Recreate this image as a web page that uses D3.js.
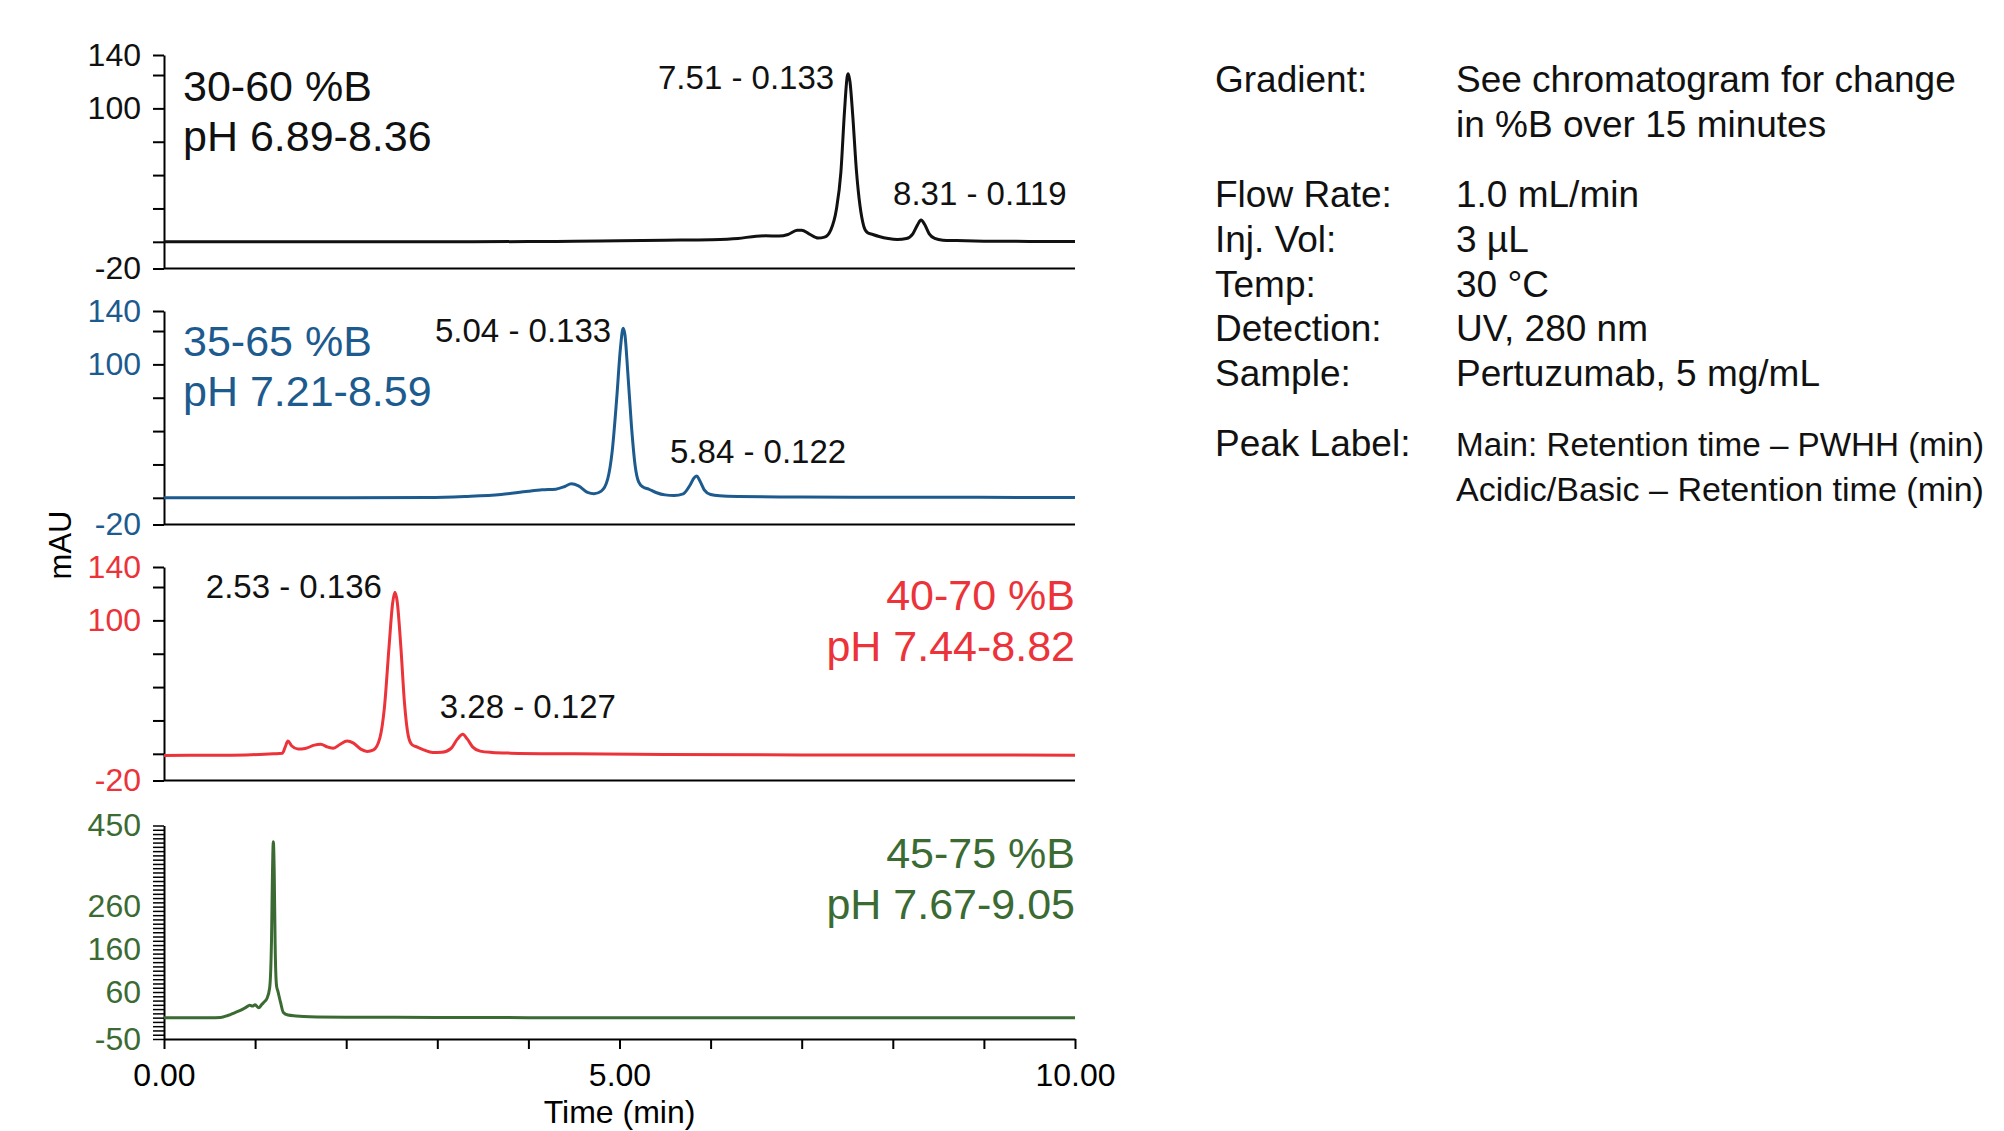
<!DOCTYPE html>
<html><head><meta charset="utf-8">
<script src="https://cdn.jsdelivr.net/npm/d3@7"></script>
<style>
body{margin:0;background:#fff;overflow:hidden}
svg{display:block;font-family:"Liberation Sans",Arial,sans-serif}
</style></head>
<body><svg id="c" width="2004" height="1131"></svg>
<script>
// ---------- DATA ----------
const panelGradients = ["30-60 %B", "35-65 %B", "40-70 %B", "45-75 %B"];
const panelPH = ["pH 6.89-8.36", "pH 7.21-8.59", "pH 7.44-8.82", "pH 7.67-9.05"];
const yDomains = [[-20, 140], [-20, 140], [-20, 140], [-50, 450]];
const yTickValuesStd = [-20, 0, 25, 50, 75, 100, 125, 140];
const yTickValuesP4 = [-50, -40, -30, -20, -10, 0, 10, 20, 30, 40, 50, 60, 70, 80, 90, 100, 110, 120, 130, 140, 150, 160, 170, 180, 190, 200, 210, 220, 230, 240, 250, 260, 270, 280, 290, 300, 310, 320, 330, 340, 350, 360, 370, 380, 390, 400, 410, 420, 430, 440, 450];
const yTickLabelsStd = [-20, 100, 140];
const yTickLabelsP4 = [-50, 60, 160, 260, 450];
const xTickValues = [0, 1, 2, 3, 4, 5, 6, 7, 8, 9, 10];
const xTickLabels = [0, 5, 10];
const xLabel = "Time (min)";
const yLabel = "mAU";

// time (min), absorbance (mAU)
const trace1 = [[0,0],[1,0],[2,0],[3,0],[4,0.2],[4.5,0.4],[5,0.8],[5.5,1.2],[6,1.6],[6.3,2.5],[6.5,4.2],[6.6,4.5],[6.75,4.3],[6.85,5.5],[6.95,8.6],[7.0,8.7],[7.08,6],[7.18,2.8],[7.25,3.5],[7.32,9],[7.38,24],[7.43,52],[7.47,98],[7.5,124],[7.51,126],[7.53,120],[7.56,95],[7.6,54],[7.64,27],[7.68,12],[7.72,7],[7.78,5.5],[7.85,4],[7.95,2.5],[8.05,1.8],[8.15,2.5],[8.22,6],[8.27,12.5],[8.31,16.3],[8.35,13],[8.4,6],[8.46,2.5],[8.55,1.2],[8.7,0.9],[9,0.5],[9.5,0.3],[10,0.2]];
const trace2 = [[0,0],[1,0],[2,0],[2.9,0.2],[3.3,1],[3.7,2.5],[4.0,5],[4.15,6],[4.3,6.5],[4.4,8.5],[4.47,10.5],[4.55,9],[4.65,4],[4.72,3],[4.8,5],[4.87,14],[4.92,35],[4.97,75],[5.01,112],[5.04,127],[5.06,122],[5.09,95],[5.13,55],[5.17,25],[5.21,12],[5.26,8],[5.32,6.5],[5.4,4],[5.5,2.2],[5.6,1.8],[5.7,3],[5.77,9],[5.82,15],[5.85,16.3],[5.88,13],[5.93,6],[6.0,2.5],[6.1,1.5],[6.3,1],[7,0.6],[8,0.4],[10,0.3]];
const trace3 = [[0,-1.2],[0.5,-1.1],[0.9,-0.8],[1.2,0],[1.3,0.5],[1.33,5],[1.36,9.6],[1.4,6],[1.47,3.6],[1.55,4],[1.65,6.5],[1.72,7.1],[1.8,5],[1.86,4.2],[1.93,7],[2.01,9.6],[2.08,8],[2.16,3.5],[2.23,1.8],[2.3,3],[2.37,12],[2.42,35],[2.47,80],[2.51,113],[2.535,121],[2.56,114],[2.6,80],[2.64,38],[2.68,14],[2.72,7],[2.78,5],[2.85,3],[2.95,1],[3.05,1.2],[3.15,4],[3.22,11],[3.28,14.6],[3.33,11],[3.39,5],[3.47,2],[3.6,1],[3.8,0.5],[4.5,0],[5.5,-0.5],[7,-0.8],[10,-1]];
const trace4 = [[0,0],[0.5,0],[0.62,0.5],[0.7,5],[0.78,12],[0.85,18],[0.9,24],[0.94,29],[0.97,27],[1.0,30],[1.04,23],[1.07,30],[1.1,37],[1.13,45],[1.16,70],[1.18,180],[1.19,330],[1.2,412],[1.21,340],[1.22,170],[1.235,75],[1.25,62],[1.28,35],[1.31,12],[1.36,6],[1.45,4],[1.6,2],[2,1],[3,0.5],[4,0],[10,0]];
const traces = [trace1, trace2, trace3, trace4];

// peak annotations: [time, mAU, text]
const peaks1 = [[7.51, 126, "7.51 - 0.133"], [8.31, 16.3, "8.31 - 0.119"]];
const peaks2 = [[5.04, 127, "5.04 - 0.133"], [5.84, 16.3, "5.84 - 0.122"]];
const peaks3 = [[2.535, 121, "2.53 - 0.136"], [3.28, 14.6, "3.28 - 0.127"]];
const peaks = [peaks1, peaks2, peaks3, []];

const infoLabels = ["Gradient:", "", "Flow Rate:", "Inj. Vol:", "Temp:", "Detection:", "Sample:", "Peak Label:", ""];
const infoValues = ["See chromatogram for change", "in %B over 15 minutes", "1.0 mL/min", "3 \u00b5L", "30 \u00b0C", "UV, 280 nm", "Pertuzumab, 5 mg/mL", "Main: Retention time \u2013 PWHH (min)", "Acidic/Basic \u2013 Retention time (min)"];

// ---------- LAYOUT / STYLE ----------
const colors = ["#111111", "#1d5b8f", "#ec3339", "#3b6b33"];
const panelTops = [55, 311, 567, 825.5];
const panelH = 213.5;
const X0 = 164, X1 = 1075;
const labelBaselines = [[46, 96], [45, 95], [43, 94], [42, 93]];
const labelAlign = ["start", "start", "end", "end"];
// per peak label: anchor, dx (px from peak x), dy (px from peak top)
const peakLayout = [
  [["end", -14, 15], ["start", -28, -15]],
  [["end", -12, 14], ["start", -26, -13]],
  [["end", -13, 6], ["start", -23, -16]],
  []
];
const infoBaselines = [92, 137, 207, 252, 297, 341, 386, 456, 501];

const svg = d3.select("#c");
const x = d3.scaleLinear().domain([0, 10]).range([X0, X1]);
const FONT = 32;

traces.forEach((tr, i) => {
  const top = panelTops[i];
  const y = d3.scaleLinear().domain(yDomains[i]).range([top + panelH, top]);
  const tv = i === 3 ? yTickValuesP4 : yTickValuesStd;
  const tl = i === 3 ? yTickLabelsP4 : yTickLabelsStd;
  const g = svg.append("g").attr("transform", `translate(${X0},0)`)
    .call(d3.axisLeft(y).tickValues(tv).tickSize(11).tickSizeOuter(0).tickPadding(12)
      .tickFormat(d => tl.includes(d) ? String(d) : ""));
  g.selectAll("path.domain").attr("stroke", "#000").attr("stroke-width", 2);
  g.selectAll(".tick line").attr("stroke", "#000").attr("stroke-width", i === 3 ? 1.5 : 2);
  g.selectAll(".tick text").attr("fill", colors[i]).style("font-size", FONT + "px")
    .style("font-family", '"Liberation Sans", Arial, sans-serif');

  if (i < 3) {
    svg.append("line").attr("x1", X0).attr("x2", X1)
      .attr("y1", y(yDomains[i][0])).attr("y2", y(yDomains[i][0]))
      .attr("stroke", "#000").attr("stroke-width", 2);
  } else {
    const gx = svg.append("g").attr("transform", `translate(0,${y(yDomains[i][0])})`)
      .call(d3.axisBottom(x).tickValues(xTickValues).tickSize(10).tickSizeOuter(0).tickPadding(14)
        .tickFormat(d => xTickLabels.includes(d) ? d3.format(".2f")(d) : ""));
    gx.selectAll("path.domain").attr("stroke", "#000").attr("stroke-width", 2);
    gx.selectAll(".tick line").attr("stroke", "#000").attr("stroke-width", 2);
    gx.selectAll(".tick text").attr("fill", "#000").style("font-size", FONT + "px")
      .style("font-family", '"Liberation Sans", Arial, sans-serif');
  }

  svg.append("path").datum(tr)
    .attr("fill", "none").attr("stroke", colors[i]).attr("stroke-width", 3)
    .attr("stroke-linejoin", "round")
    .attr("d", d3.line().x(d => x(d[0])).y(d => y(d[1])).curve(d3.curveMonotoneX));

  const lx = labelAlign[i] === "start" ? 183 : X1;
  [panelGradients[i], panelPH[i]].forEach((t, k) => {
    svg.append("text").attr("x", lx).attr("y", top + labelBaselines[i][k])
      .attr("text-anchor", labelAlign[i]).attr("fill", colors[i])
      .style("font-size", "43px").text(t);
  });

  peaks[i].forEach((p, k) => {
    const [anchor, dx, dy] = peakLayout[i][k];
    svg.append("text").attr("x", x(p[0]) + dx).attr("y", y(p[1]) + dy)
      .attr("text-anchor", anchor).attr("fill", "#111")
      .style("font-size", "33px").text(p[2]);
  });
});

svg.append("text").attr("x", (X0 + X1) / 2).attr("y", 1123).attr("text-anchor", "middle")
  .attr("fill", "#000").style("font-size", FONT + "px").text(xLabel);
svg.append("text").attr("transform", "translate(71,545) rotate(-90)").attr("text-anchor", "middle")
  .attr("fill", "#000").style("font-size", "31px").text(yLabel);

const INFO_MAXW = 528;
infoLabels.forEach((t, k) => {
  if (t) svg.append("text").attr("x", 1215).attr("y", infoBaselines[k]).attr("fill", "#111")
    .style("font-size", "37px").text(t);
  const v = svg.append("text").attr("x", 1456).attr("y", infoBaselines[k]).attr("fill", "#111")
    .style("font-size", "37px").text(infoValues[k]);
  const w = v.node().getComputedTextLength();
  if (w > INFO_MAXW) {
    v.style("font-size", (37 * INFO_MAXW / w).toFixed(2) + "px");
  }
});
</script></body></html>
